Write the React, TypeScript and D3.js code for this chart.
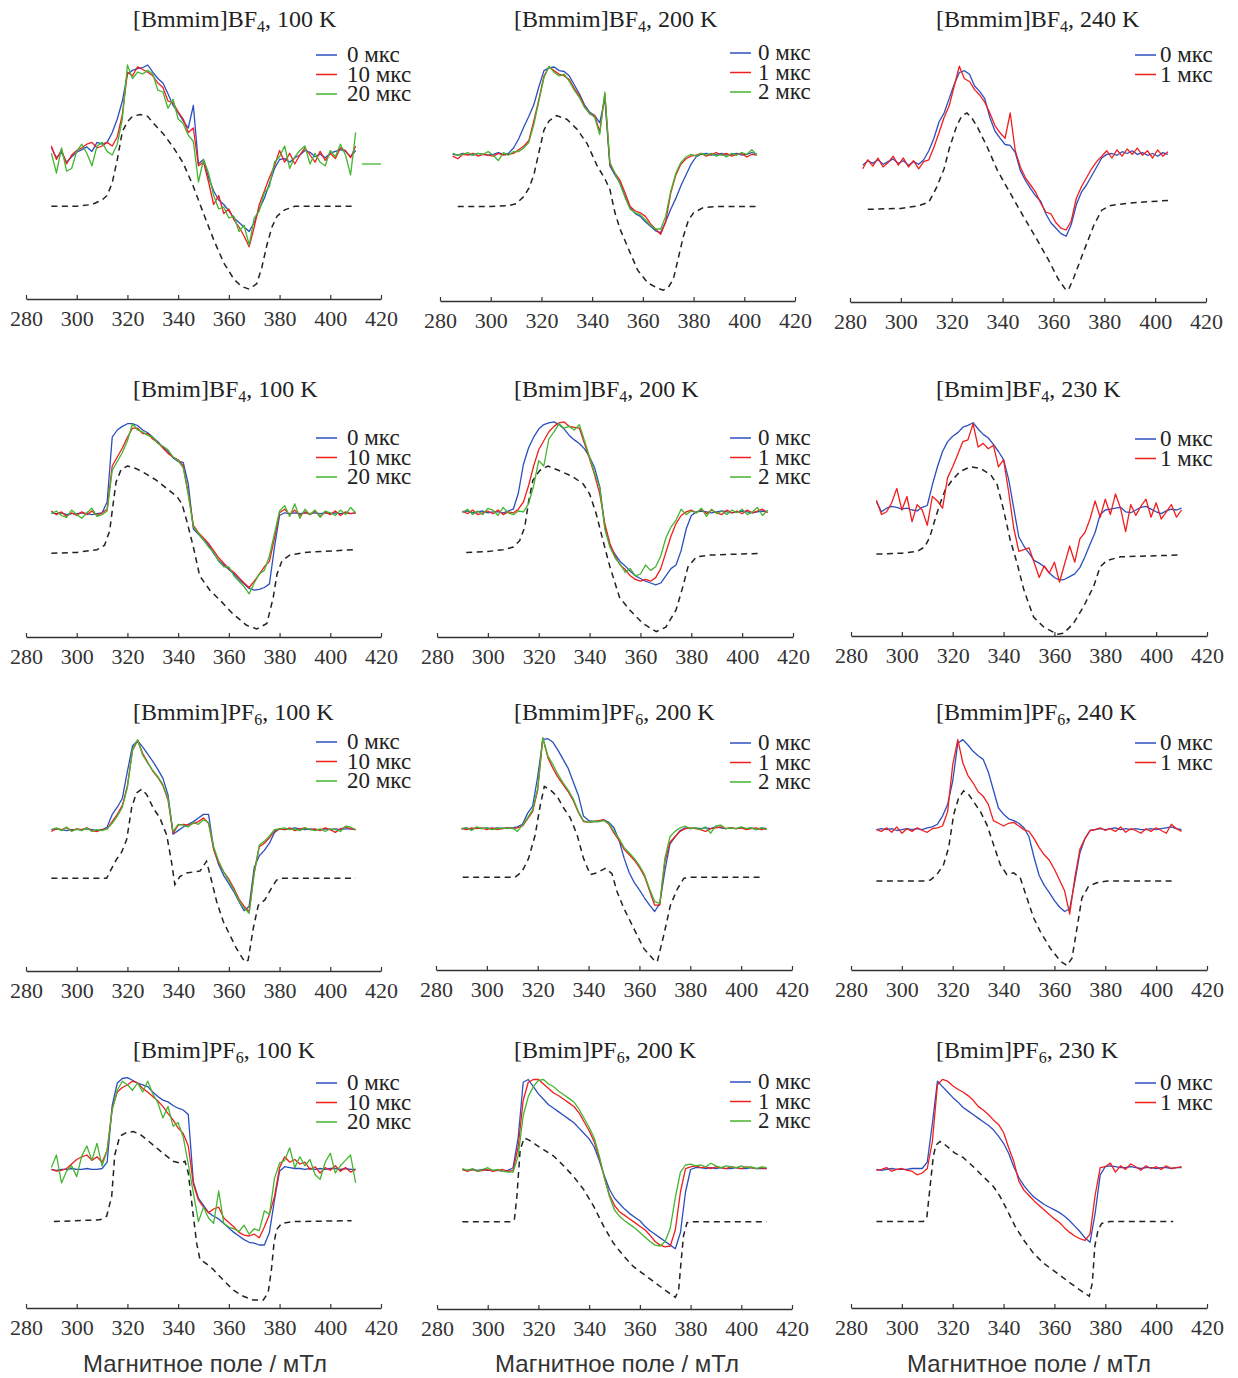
import * as d3 from "d3";
import React, { useEffect, useRef } from "react";

// magnetic field grids, mT
const fieldA = d3.range(290, 411, 2);
const fieldB = d3.range(285, 406, 2);
const tickValues = [280, 300, 320, 340, 360, 380, 400, 420];

// ---------- [Bmmim]BF4, 100 K (fieldA)
const bmmimBF4_100K_0 = [8,-3,3,-8,-2,3,6,9,4,14,12,14,25,40,60,90,94,96,97,100,92,85,80,68,55,47,38,30,55,-10,-5,-25,-40,-50,-55,-62,-70,-75,-80,-85,-75,-60,-48,-32,-15,-5,-4,-8,-3,0,5,3,-2,1,-3,2,4,6,4,-2,5];
const bmmimBF4_100K_10 = [10,-5,6,-10,0,5,8,12,14,8,10,14,10,20,45,92,88,98,95,92,88,80,75,60,58,48,40,25,30,-12,-8,-30,-55,-45,-65,-60,-72,-80,-90,-102,-80,-55,-40,-25,-12,5,-8,2,-10,0,8,0,-8,4,-6,2,-4,8,5,-3,10];
const bmmimBF4_100K_20 = [2,-20,8,-18,-15,4,12,2,-12,10,14,4,0,12,40,100,85,92,90,94,90,72,70,52,62,40,35,22,15,-30,-5,-20,-45,-60,-58,-70,-68,-85,-78,-100,-70,-62,-42,-35,-8,-2,10,-15,-2,5,10,-10,2,-8,-12,5,-2,12,0,-22,25];
const bmmimBF4_100K_20tail: [number, number][] = [[412.5,-10],[420,-10]];
const bmmimBF4_100K_sim: [number, number][] = [[290,-57],[300,-57],[306,-55],[310,-50],[312,-45],[314,-31],[316,-5],[318,26],[320,37],[322,43],[325,45],[328,43],[330,36],[334,24],[338,9],[342,-9],[346,-35],[350,-65],[354,-94],[358,-120],[362,-138],[365,-146],[368,-149],[371,-143],[373,-125],[375,-100],[377,-80],[379,-68],[382,-61],[386,-57],[410,-57]];

// ---------- [Bmmim]BF4, 200 K (fieldB)
const bmmimBF4_200K_0 = [3,2,4,3,2,4,3,2,3,5,3,4,10,20,33,45,58,78,96,99,100,96,95,90,80,70,58,50,46,38,65,-10,-20,-29,-44,-56,-63,-66,-72,-77,-82,-84,-72,-58,-46,-32,-20,-8,0,3,4,2,3,4,2,3,4,2,3,5,3];
const bmmimBF4_200K_1 = [1,-2,3,2,4,1,3,2,1,4,2,3,4,8,12,18,40,64,90,100,96,92,90,86,76,68,56,48,46,28,70,-8,-18,-26,-40,-55,-60,-62,-66,-74,-80,-86,-72,-40,-20,-8,-2,1,2,4,1,3,5,2,4,1,3,4,0,3,2];
const bmmimBF4_200K_2 = [4,2,3,5,2,4,3,6,2,-4,5,2,6,6,10,16,36,62,88,101,94,90,92,84,74,66,55,49,44,25,72,-6,-18,-30,-45,-58,-62,-64,-70,-76,-80,-80,-66,-38,-18,-6,0,3,1,4,2,4,1,3,0,4,2,5,3,8,2];
const bmmimBF4_200K_sim: [number, number][] = [[287,-55],[300,-55],[307,-54],[310,-52],[313,-44],[315,-35],[317,-20],[319,5],[321,30],[323,40],[326,46],[330,42],[334,31],[338,15],[342,-10],[345,-24],[347,-36],[349,-62],[351,-80],[354,-100],[358,-126],[362,-140],[366,-146],[368,-148],[370,-145],[372,-136],[374,-112],[376,-88],[378,-70],[380,-62],[384,-56],[390,-55],[405,-55]];

// ---------- [Bmmim]BF4, 240 K (fieldB)
const bmmimBF4_240K_0 = [-8,-3,-6,-2,-7,-4,-1,-6,-3,-8,-4,-7,-2,8,22,40,50,66,82,95,97,93,80,74,66,45,30,22,15,14,6,-14,-25,-34,-42,-48,-62,-72,-78,-84,-87,-74,-52,-38,-30,-20,-10,0,4,5,3,7,5,8,4,6,3,5,2,6,4];
const bmmimBF4_240K_1 = [-12,-2,-9,0,-10,-5,2,-8,0,-10,-3,-12,-4,-2,12,28,45,58,80,102,88,85,76,70,62,50,36,28,22,50,8,-10,-22,-30,-38,-50,-60,-62,-72,-78,-80,-70,-45,-32,-22,-12,-4,2,8,0,9,2,10,4,11,3,8,0,9,2,7];
const bmmimBF4_240K_sim: [number, number][] = [[287,-57],[300,-56],[307,-53],[311,-49],[314,-33],[317,-12],[319,10],[322,36],[324,47],[326,50],[328,44],[330,35],[334,12],[338,-14],[343,-39],[348,-64],[353,-88],[358,-113],[362,-135],[365,-147],[366,-146],[368,-133],[372,-103],[376,-74],[379,-58],[382,-53],[390,-50],[406,-47]];

// ---------- [Bmim]BF4, 100 K (fieldA)
const bmimBF4_100K_0 = [-22,-23,-22,-24,-23,-23,-22,-23,-24,-23,-22,-10,62,70,74,77,77,75,70,67,62,57,51,46,39,35,34,10,-40,-46,-52,-58,-67,-75,-80,-85,-90,-96,-101,-106,-108,-107,-105,-101,-60,-25,-22,-23,-22,-23,-22,-23,-22,-23,-22,-23,-22,-23,-22,-23,-22];
const bmimBF4_100K_10 = [-20,-24,-21,-26,-22,-25,-21,-24,-20,-25,-22,-18,30,40,50,62,72,72,66,66,60,56,50,44,40,37,30,0,-36,-44,-50,-56,-64,-72,-78,-84,-88,-94,-100,-105,-98,-90,-82,-76,-50,-22,-18,-24,-19,-25,-21,-24,-20,-26,-21,-24,-20,-25,-21,-23,-22];
const bmimBF4_100K_20 = [-23,-20,-25,-27,-19,-24,-28,-22,-17,-26,-24,-20,25,35,45,58,77,70,68,64,62,55,52,48,40,36,28,-2,-38,-45,-52,-60,-66,-76,-82,-82,-92,-98,-104,-112,-100,-90,-86,-70,-45,-20,-14,-26,-12,-28,-18,-24,-19,-27,-20,-22,-25,-19,-24,-16,-22];
const bmimBF4_100K_sim: [number, number][] = [[290,-67],[300,-66],[308,-63],[311,-58],[313,-42],[314,-20],[315.5,12],[317.5,26],[320,30],[323.5,27],[327.5,21],[331.5,14],[335.5,5],[339.5,-4],[341.5,-12],[343.5,-32],[346,-60],[348.5,-92],[352.5,-108],[356.5,-119],[361.5,-134],[367,-147],[371,-151],[375,-145],[377.5,-116],[379,-90],[381,-75],[384,-69],[390,-66],[409,-63]];

// ---------- [Bmim]BF4, 200 K (fieldA)
const bmimBF4_200K_0 = [-21,-20,-22,-21,-20,-22,-21,-21,-22,-20,-18,0,32,50,62,71,76,78,79,76,71,64,59,55,49,40,28,7,-38,-58,-68,-76,-81,-87,-92,-95,-98,-100,-102,-100,-92,-84,-80,-64,-40,-25,-21,-20,-21,-22,-21,-20,-21,-22,-21,-20,-21,-22,-21,-20,-21];
const bmimBF4_200K_1 = [-20,-23,-19,-24,-22,-20,-23,-19,-24,-21,-22,-18,-10,8,30,48,58,68,74,78,79,74,73,72,55,38,20,-1,-34,-56,-70,-80,-85,-92,-96,-98,-96,-98,-94,-84,-66,-48,-34,-25,-21,-19,-22,-18,-23,-19,-22,-24,-19,-22,-20,-23,-19,-22,-20,-18,-22];
const bmimBF4_200K_2 = [-22,-18,-24,-20,-24,-17,-19,-25,-16,-22,-24,-20,-21,-12,8,36,30,60,68,77,72,74,70,76,58,40,22,6,-40,-60,-72,-79,-88,-84,-92,-90,-80,-86,-82,-70,-50,-38,-30,-18,-24,-20,-22,-17,-26,-18,-23,-20,-24,-19,-22,-18,-24,-21,-16,-25,-19];
const bmimBF4_200K_sim: [number, number][] = [[291.5,-66],[300,-65],[306,-63],[310,-60],[312.5,-53],[314.5,-38],[316,-10],[317.7,14],[320.4,25],[323.6,30],[328,25],[333.5,18],[337.5,10],[340,-1],[342.6,-23],[345.3,-53],[348,-82],[351.8,-116],[355.8,-130],[361,-145],[366.2,-154],[370,-149],[374,-130],[376.7,-104],[378.7,-82],[382,-71],[387,-69],[407.5,-67]];

// ---------- [Bmim]BF4, 230 K (fieldA)
const bmimBF4_230K_0 = [-11,-22,-18,-16,-17,-19,-18,-20,-21,-17,-15,8,28,45,56,62,66,72,74,77,70,64,60,53,45,36,14,-18,-50,-60,-68,-76,-79,-83,-90,-95,-98,-97,-94,-91,-84,-72,-58,-45,-25,-20,-19,-18,-17,-22,-23,-20,-17,-16,-19,-22,-24,-21,-19,-20,-18];
const bmimBF4_230K_1 = [-9,-25,-22,-12,4,-20,-5,-33,-14,-20,-37,-5,-10,-18,16,28,42,56,58,76,50,54,48,52,28,36,0,-40,-66,-64,-62,-78,-95,-82,-90,-78,-100,-80,-60,-78,-52,-45,-30,-10,-28,-8,-25,-2,-18,-44,-14,-26,-16,-8,-28,-12,-30,-22,-14,-28,-20];
const bmimBF4_230K_sim: [number, number][] = [[290,-69],[300,-68],[306,-66],[309,-61],[311,-50],[313,-31],[315,-13],[317,2],[319.7,13],[323,23],[327,28],[331,26],[335,19],[337.5,8],[340,-20],[342.6,-53],[345.3,-79],[348,-109],[351.8,-139],[355.8,-150],[361,-158],[363.6,-157],[367.5,-146],[371.5,-127],[375.4,-105],[378,-83],[380.7,-76],[386,-72],[410,-70]];

// ---------- [Bmmim]PF6, 100 K (fieldA)
const bmmimPF6_100K_0 = [-3,-2,-3,-4,-3,-3,-3,-2,-3,-4,-3,0,14,22,32,62,90,96,89,81,73,64,54,36,-8,-4,0,3,6,10,14,14,-24,-42,-54,-63,-72,-83,-93,-88,-45,-32,-26,-18,-6,-2,-3,-2,-1,-2,-3,-2,-3,-3,-2,-3,-2,-3,-2,-2,-3];
const bmmimPF6_100K_10 = [-5,-2,-3,-1,-4,-2,-3,-1,-4,-5,-3,-2,6,14,24,46,85,96,82,72,62,55,46,30,-7,2,3,2,4,6,10,4,-25,-40,-50,-58,-68,-80,-88,-94,-50,-22,-18,-12,-4,-2,-3,-1,-4,-2,-1,-3,-2,-4,-1,-3,-6,-2,0,-2,-3];
const bmmimPF6_100K_20 = [-3,-1,-4,0,-5,-2,-4,-1,-5,-3,-4,-2,4,12,22,44,86,97,80,71,63,56,47,32,-5,3,2,0,5,3,8,5,-22,-38,-50,-60,-70,-82,-90,-96,-52,-20,-16,-10,-3,-2,-1,-3,-2,-4,-1,-3,-4,-2,-5,-2,-3,-5,1,0,-3];
const bmmimPF6_100K_sim: [number, number][] = [[290,-57],[311.8,-57],[313.8,-46],[315.7,-36],[317.7,-28],[319.7,-14],[321.7,22],[323.6,38],[325.6,42],[327.6,36],[330.2,21],[332.8,10],[335.5,-9],[337.4,-39],[338.7,-64],[340.7,-55],[343.3,-51],[348.6,-49],[351.2,-38],[353.2,-60],[355.2,-83],[357.8,-105],[360.4,-120],[363,-135],[366.3,-150],[367.6,-148],[369.6,-113],[371.6,-87],[374.2,-81],[376.8,-68],[378.8,-59],[381,-57],[410,-57]];

// ---------- [Bmmim]PF6, 200 K (fieldA)
const bmmimPF6_200K_0 = [-3,-2,-4,-2,-3,-2,-3,-2,-3,-2,-2,-1,2,14,22,55,96,97,93,84,74,64,49,34,11,6,5,5,7,4,-2,-16,-36,-52,-63,-71,-80,-88,-95,-86,-50,-20,-12,-5,-2,-3,-2,-3,-2,-3,-1,-2,-3,-2,-3,-2,-3,-2,-4,-2,-3];
const bmmimPF6_200K_1 = [-3,-4,-2,-3,-2,-4,-2,-4,-3,-2,-3,-2,0,8,16,40,98,76,64,54,46,38,28,15,5,4,5,6,7,2,-8,-16,-26,-32,-38,-46,-56,-72,-88,-88,-40,-18,-12,-6,-3,-2,-3,-4,-6,-3,-2,-1,-3,-2,-3,-2,-4,-3,-2,-4,-3];
const bmmimPF6_200K_2 = [-3,-2,-5,-1,-3,-2,-4,-3,-2,-3,-2,-6,1,9,18,42,98,78,68,57,48,40,30,16,6,4,5,5,6,3,-6,-14,-24,-30,-36,-44,-54,-70,-84,-86,-36,-12,-6,-2,0,-3,-2,-4,-1,-8,0,1,-3,-2,-3,-1,-3,-2,-4,-2,-4];
const bmmimPF6_200K_sim: [number, number][] = [[290.5,-57],[311,-57],[313.8,-51],[316.4,-36],[319,-10],[321,23],[322.6,44],[325,40],[327.6,33],[330.2,20],[332.8,9],[335.5,-10],[338,-36],[340.7,-54],[343.3,-52],[346.6,-47],[349.2,-53],[351.2,-73],[353.8,-91],[357.8,-114],[361.7,-136],[365.7,-149],[367,-151],[369.6,-121],[372.2,-88],[374.9,-70],[377.5,-58],[380.1,-57],[409,-57]];

// ---------- [Bmmim]PF6, 240 K (fieldA)
const bmmimPF6_240K_0 = [-4,-3,-4,-3,-5,-4,-3,-4,-3,-4,-2,-1,2,11,24,50,92,96,90,83,78,74,60,40,20,13,8,6,3,-2,-12,-35,-55,-66,-74,-83,-90,-95,-92,-62,-30,-14,-5,-4,-3,-4,-3,-2,-4,-3,-4,-3,-4,-4,-3,-4,-3,-2,-1,-3,-4];
const bmmimPF6_240K_1 = [-4,-6,-2,-7,-1,-8,-3,-6,-2,-5,-7,-3,-2,0,16,68,96,70,56,48,38,33,24,6,3,0,3,4,0,-4,-6,-14,-24,-32,-38,-48,-60,-72,-98,-58,-26,-14,-5,-4,-2,-5,-3,-6,-1,-7,-3,-5,-8,-3,-6,-2,-5,-8,2,-3,-6];
const bmmimPF6_240K_sim: [number, number][] = [[290,-61],[308.6,-61],[311.2,-60],[313.8,-54],[316.4,-43],[318.4,-24],[320.4,13],[322.3,31],[324.3,39],[326.3,35],[328.2,27],[330.9,16],[333.5,1],[336.1,-21],[338.7,-43],[341.3,-54],[344,-52],[346.6,-58],[349.2,-80],[351.8,-102],[354.4,-117],[358.4,-136],[362.3,-150],[364.9,-155],[366.9,-147],[368.9,-113],[370.8,-80],[373.4,-67],[376.7,-63],[380.7,-61],[407,-61]];

// ---------- [Bmim]PF6, 100 K (fieldA)
const bmimPF6_100K_0 = [-6,-7,-6,-6,-5,-6,-6,-5,-6,-6,-5,2,65,90,95,96,93,90,88,86,80,75,71,69,65,62,60,55,-20,-38,-46,-54,-58,-61,-66,-71,-76,-80,-84,-87,-88,-90,-90,-76,-40,-8,-3,-4,-5,-5,-6,-5,-6,-5,-6,-5,-5,-6,-5,-6,-6];
const bmimPF6_100K_10 = [-6,-8,-7,-5,0,5,8,10,4,8,2,15,62,80,85,88,92,90,84,80,75,70,64,56,49,40,34,20,-22,-40,-48,-54,-50,-48,-60,-65,-70,-76,-79,-80,-78,-82,-70,-56,-36,-4,8,2,5,0,2,-6,-3,-10,-4,-7,-2,-8,-4,-9,-6];
const bmimPF6_100K_20 = [-4,10,-21,-8,-2,-14,9,20,4,23,-2,15,60,82,92,88,82,90,80,92,78,68,51,64,42,46,30,0,-32,-64,-48,-60,-66,-30,-66,-70,-72,-75,-68,-78,-72,-74,-52,-56,-16,1,4,18,-4,8,-2,5,-12,-17,2,12,-10,-2,4,10,-21];
const bmimPF6_100K_sim: [number, number][] = [[291,-64],[309.2,-62],[311.8,-58],[313.8,-36],[315,10],[317,31],[319.7,35],[322.3,36],[325,33],[327.6,27],[330.2,21],[334,12],[338,3],[340.7,1],[342.7,3],[344,-10],[346,-58],[347.3,-88],[348.6,-106],[351.2,-111],[353.8,-117],[357.8,-129],[361.7,-140],[365.7,-147],[369.6,-151],[373.6,-151],[375.5,-143],[376.8,-117],[377.8,-88],[378.8,-73],[380.8,-66],[385.4,-64],[408.4,-63]];

// ---------- [Bmim]PF6, 200 K (fieldA)
const bmimPF6_200K_0 = [-5,-6,-5,-6,-5,-6,-6,-6,-7,-6,-3,30,92,95,87,79,73,67,63,59,55,51,47,41,35,29,20,5,-12,-27,-37,-43,-49,-54,-58,-62,-68,-73,-77,-81,-85,-89,-93,-75,-30,-5,-3,-3,-4,-3,-4,-3,-4,-4,-3,-4,-4,-3,-4,-4,-4];
const bmimPF6_200K_1 = [-5,-7,-5,-7,-6,-5,-7,-6,-5,-7,-6,20,72,92,95,95,90,85,80,77,73,69,65,58,48,38,26,8,-14,-33,-45,-52,-56,-60,-64,-68,-72,-78,-85,-89,-91,-90,-72,-30,-4,-2,-1,-3,-2,-4,-2,-3,-4,-2,-3,-4,-2,-3,-4,-3,-4];
const bmimPF6_200K_2 = [-4,-6,-4,-7,-5,-3,-6,-5,-7,-8,-8,10,55,76,87,94,95,90,87,82,78,74,70,62,52,42,30,10,-14,-35,-50,-57,-62,-66,-70,-75,-80,-85,-89,-90,-85,-70,-36,-8,0,1,-1,0,-2,2,-1,-3,-1,-2,-3,-1,-3,-2,-4,-2,-3];
const bmimPF6_200K_sim: [number, number][] = [[290,-63],[309,-63],[310.5,-61],[311.5,-35],[312.8,17],[314.4,30],[316.1,28],[318.8,23],[322,17],[326,10],[330,-1],[333.9,-13],[337.8,-27],[341.8,-46],[345.7,-68],[349.6,-87],[353.6,-101],[357.5,-113],[362.8,-124],[368,-135],[372,-143],[374,-147],[375.3,-139],[376.2,-109],[377.2,-79],[378.6,-64],[381.2,-63],[410,-63]];

// ---------- [Bmim]PF6, 230 K (fieldA)
const bmimPF6_230K_0 = [-6,-7,-6,-5,-6,-6,-6,-5,-5,-5,2,45,92,86,80,74,69,63,59,55,51,47,43,38,31,23,12,-3,-15,-24,-31,-37,-41,-45,-48,-51,-54,-58,-63,-69,-75,-82,-87,-55,-12,-3,-2,-3,-4,-4,-3,-4,-5,-4,-4,-5,-4,-4,-5,-4,-4];
const bmimPF6_230K_1 = [-7,-6,-4,-8,-6,-5,-7,-8,-12,-10,-5,25,88,94,92,87,83,80,76,71,64,60,55,49,44,35,18,3,-19,-29,-35,-41,-46,-51,-56,-61,-65,-71,-76,-80,-83,-85,-78,-35,-4,-3,1,-9,-2,-6,0,-3,-7,-2,-5,-3,-6,-2,-5,-4,-3];
const bmimPF6_230K_sim: [number, number][] = [[290,-64],[308.4,-64],[309.8,-60],[311.1,-25],[312.4,9],[313.4,21],[315,25],[317.6,20],[320.9,12],[324.2,7],[328.1,-3],[332,-14],[336,-25],[338.6,-36],[341.2,-50],[344.5,-69],[347.8,-84],[351.7,-99],[355.6,-110],[360.9,-121],[366.1,-132],[370,-140],[372.7,-145],[373.7,-147],[374.9,-132],[375.9,-91],[377.2,-73],[378.6,-66],[381.8,-64],[406.7,-64]];

const labels3a = ["0 мкс", "10 мкс", "20 мкс"];
const labels3b = ["0 мкс", "1 мкс", "2 мкс"];
const labels2 = ["0 мкс", "1 мкс"];
const lineColors = ["#2b4fbf", "#f21d1d", "#43b52f"];

// column layout
const columns = [
  { legendX: 316, textX: 347, titleX: 133, labelX: 205 },
  { legendX: 730, textX: 758, titleX: 514, labelX: 617 },
  { legendX: 1135, textX: 1160, titleX: 936, labelX: 1029 },
];

type Panel = {
  col: number;
  salt: string;
  anion: string;
  sub: string;
  temp: string;
  field: number[];
  series: number[][];
  labels: string[];
  sim: [number, number][];
  extra?: [number, number][];
  xRange: [number, number];
  axisY: number;
  titleY: number;
  legendY: number;
};

const panels: Panel[] = [
  { col: 0, salt: "[Bmmim]", anion: "BF", sub: "4", temp: "100 K", field: fieldA, series: [bmmimBF4_100K_0, bmmimBF4_100K_10, bmmimBF4_100K_20], labels: labels3a, sim: bmmimBF4_100K_sim, extra: bmmimBF4_100K_20tail, xRange: [26, 381], axisY: 299, titleY: 27, legendY: 55 },
  { col: 1, salt: "[Bmmim]", anion: "BF", sub: "4", temp: "200 K", field: fieldB, series: [bmmimBF4_200K_0, bmmimBF4_200K_1, bmmimBF4_200K_2], labels: labels3b, sim: bmmimBF4_200K_sim, xRange: [440, 795], axisY: 301, titleY: 27, legendY: 53 },
  { col: 2, salt: "[Bmmim]", anion: "BF", sub: "4", temp: "240 K", field: fieldB, series: [bmmimBF4_240K_0, bmmimBF4_240K_1], labels: labels2, sim: bmmimBF4_240K_sim, xRange: [850, 1206], axisY: 302, titleY: 27, legendY: 55 },
  { col: 0, salt: "[Bmim]", anion: "BF", sub: "4", temp: "100 K", field: fieldA, series: [bmimBF4_100K_0, bmimBF4_100K_10, bmimBF4_100K_20], labels: labels3a, sim: bmimBF4_100K_sim, xRange: [26, 381], axisY: 637, titleY: 397, legendY: 438 },
  { col: 1, salt: "[Bmim]", anion: "BF", sub: "4", temp: "200 K", field: fieldA, series: [bmimBF4_200K_0, bmimBF4_200K_1, bmimBF4_200K_2], labels: labels3b, sim: bmimBF4_200K_sim, xRange: [437, 793], axisY: 637, titleY: 397, legendY: 438 },
  { col: 2, salt: "[Bmim]", anion: "BF", sub: "4", temp: "230 K", field: fieldA, series: [bmimBF4_230K_0, bmimBF4_230K_1], labels: labels2, sim: bmimBF4_230K_sim, xRange: [851, 1207], axisY: 636, titleY: 397, legendY: 439 },
  { col: 0, salt: "[Bmmim]", anion: "PF", sub: "6", temp: "100 K", field: fieldA, series: [bmmimPF6_100K_0, bmmimPF6_100K_10, bmmimPF6_100K_20], labels: labels3a, sim: bmmimPF6_100K_sim, xRange: [26, 381], axisY: 971, titleY: 720, legendY: 742 },
  { col: 1, salt: "[Bmmim]", anion: "PF", sub: "6", temp: "200 K", field: fieldA, series: [bmmimPF6_200K_0, bmmimPF6_200K_1, bmmimPF6_200K_2], labels: labels3b, sim: bmmimPF6_200K_sim, xRange: [436, 792], axisY: 970, titleY: 720, legendY: 743 },
  { col: 2, salt: "[Bmmim]", anion: "PF", sub: "6", temp: "240 K", field: fieldA, series: [bmmimPF6_240K_0, bmmimPF6_240K_1], labels: labels2, sim: bmmimPF6_240K_sim, xRange: [851, 1207], axisY: 970, titleY: 720, legendY: 743 },
  { col: 0, salt: "[Bmim]", anion: "PF", sub: "6", temp: "100 K", field: fieldA, series: [bmimPF6_100K_0, bmimPF6_100K_10, bmimPF6_100K_20], labels: labels3a, sim: bmimPF6_100K_sim, xRange: [26, 381], axisY: 1308, titleY: 1058, legendY: 1083 },
  { col: 1, salt: "[Bmim]", anion: "PF", sub: "6", temp: "200 K", field: fieldA, series: [bmimPF6_200K_0, bmimPF6_200K_1, bmimPF6_200K_2], labels: labels3b, sim: bmimPF6_200K_sim, xRange: [437, 792], axisY: 1309, titleY: 1058, legendY: 1082 },
  { col: 2, salt: "[Bmim]", anion: "PF", sub: "6", temp: "230 K", field: fieldA, series: [bmimPF6_230K_0, bmimPF6_230K_1], labels: labels2, sim: bmimPF6_230K_sim, xRange: [851, 1207], axisY: 1308, titleY: 1058, legendY: 1083 },
];

const SERIF = "'Liberation Serif', 'Times New Roman', serif";
const SANS = "'Liberation Sans', Arial, sans-serif";

const App: React.FC = () => {
  const svgRef = useRef<SVGSVGElement>(null);

  useEffect(() => {
    document.body.style.margin = "0";
    const svg = d3.select(svgRef.current);
    svg.selectAll("*").remove();

    panels.forEach((p) => {
      const c = columns[p.col];
      const x = d3.scaleLinear().domain([280, 420]).range(p.xRange);
      const y = d3
        .scaleLinear()
        .domain([-160, 105])
        .range([p.axisY, p.axisY - 238.5]);
      const g = svg.append("g");

      // axis, ticks pointing up
      const axis = g
        .append("g")
        .attr("transform", `translate(0,${p.axisY})`)
        .call(
          d3
            .axisBottom(x)
            .tickValues(tickValues)
            .tickSizeInner(-4)
            .tickSizeOuter(0)
            .tickPadding(11)
            .tickFormat(d3.format("d"))
        );
      axis.select(".domain").attr("stroke", "#333").attr("stroke-width", 1.4);
      axis.selectAll(".tick line").attr("stroke", "#333").attr("stroke-width", 1.2);
      axis
        .selectAll(".tick text")
        .attr("font-family", SERIF)
        .attr("font-size", 22)
        .attr("fill", "#333");

      // simulated spectrum (dashed)
      const simLine = d3
        .line<[number, number]>()
        .x((d) => x(d[0]))
        .y((d) => y(d[1]));
      g.append("path")
        .attr("d", simLine(p.sim) || "")
        .attr("fill", "none")
        .attr("stroke", "#222")
        .attr("stroke-width", 1.5)
        .attr("stroke-dasharray", "6,4.5");

      // experimental spectra
      p.series.forEach((s, k) => {
        const line = d3
          .line<number>()
          .x((_, i) => x(p.field[i]))
          .y((d) => y(d));
        g.append("path")
          .attr("d", line(s) || "")
          .attr("fill", "none")
          .attr("stroke", lineColors[k])
          .attr("stroke-width", 1.3)
          .attr("stroke-linejoin", "round");
      });
      if (p.extra) {
        g.append("path")
          .attr("d", simLine(p.extra) || "")
          .attr("fill", "none")
          .attr("stroke", lineColors[2])
          .attr("stroke-width", 1.3);
      }

      // title
      const title = g
        .append("text")
        .attr("x", c.titleX)
        .attr("y", p.titleY)
        .attr("font-family", SERIF)
        .attr("font-size", 24)
        .attr("fill", "#222");
      title.append("tspan").text(p.salt + p.anion);
      title.append("tspan").attr("font-size", 16).attr("dy", 5).text(p.sub);
      title.append("tspan").attr("dy", -5).text(", " + p.temp);

      // legend
      p.labels.forEach((lab, k) => {
        const ly = p.legendY + k * 19.5;
        g.append("line")
          .attr("x1", c.legendX)
          .attr("x2", c.legendX + 21)
          .attr("y1", ly)
          .attr("y2", ly)
          .attr("stroke", lineColors[k])
          .attr("stroke-width", 1.5);
        g.append("text")
          .attr("x", c.textX)
          .attr("y", ly + 7)
          .attr("font-family", SERIF)
          .attr("font-size", 23)
          .attr("fill", "#222")
          .text(lab);
      });
    });

    // x-axis titles under the bottom row
    columns.forEach((c) => {
      svg
        .append("text")
        .attr("x", c.labelX)
        .attr("y", 1372)
        .attr("text-anchor", "middle")
        .attr("font-family", SANS)
        .attr("font-size", 24)
        .attr("fill", "#333")
        .text("Магнитное поле / мТл");
    });
  }, []);

  return (
    <svg
      ref={svgRef}
      width={1238}
      height={1378}
      style={{ display: "block", background: "#fff" }}
    />
  );
};

export default App;
